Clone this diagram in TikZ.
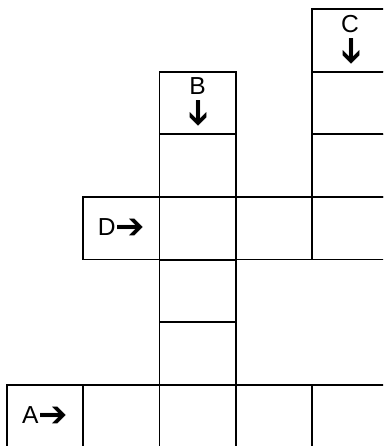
\documentclass[tikz,border=0pt]{standalone}
\usepackage{fontspec}
\setmainfont{Liberation Sans}
\newfontfamily\arrowfont{DejaVu Sans Bold}
\usetikzlibrary{positioning}

\newcommand{\rarr}{\raisebox{-1.5pt}{\fontsize{20}{20}\arrowfont ➔}}
\newcommand{\darr}{\rotatebox[origin=c]{-90}{\fontsize{20}{20}\arrowfont ➔}}

\begin{document}
\begin{tikzpicture}[
    x=0.02cm, y=-0.02cm,
    cell/.style={rectangle, draw, line width=1pt, minimum width=1.525cm, minimum height=1.253cm, inner sep=0pt, font=\fontsize{14}{15}\selectfont, align=center},
]
\useasboundingbox (0,0) rectangle (383,446);
\clip (0,0) rectangle (383,446);

% Across A (bottom row)
\node[cell] (a1) at (45.1, 416.3) {A\rarr};
\node[cell] (a2) at (121.4, 416.3) {};
\node[cell] (a3) at (197.6, 416.3) {};
\node[cell] (a4) at (273.9, 416.3) {};
\node[cell] (a5) at (350.1, 416.3) {};

% Across D
\node[cell] (d1) at (121.4, 228.3) {D\rarr};
\node[cell] (d2) at (197.6, 228.3) {};
\node[cell] (d3) at (273.9, 228.3) {};
\node[cell] (d4) at (350.1, 228.3) {};

% Down B
\node[cell] (b1) at (197.6, 103) {B\\[1pt]\darr};
\node[cell] (b2) at (197.6, 165.7) {};
\node[cell] (b4) at (197.6, 291) {};
\node[cell] (b5) at (197.6, 353.7) {};

% Down C
\node[cell] (c1) at (350.1, 40.3) {C\\[1pt]\darr};
\node[cell] (c2) at (350.1, 103) {};
\node[cell] (c3) at (350.1, 165.7) {};

\end{tikzpicture}
\end{document}
